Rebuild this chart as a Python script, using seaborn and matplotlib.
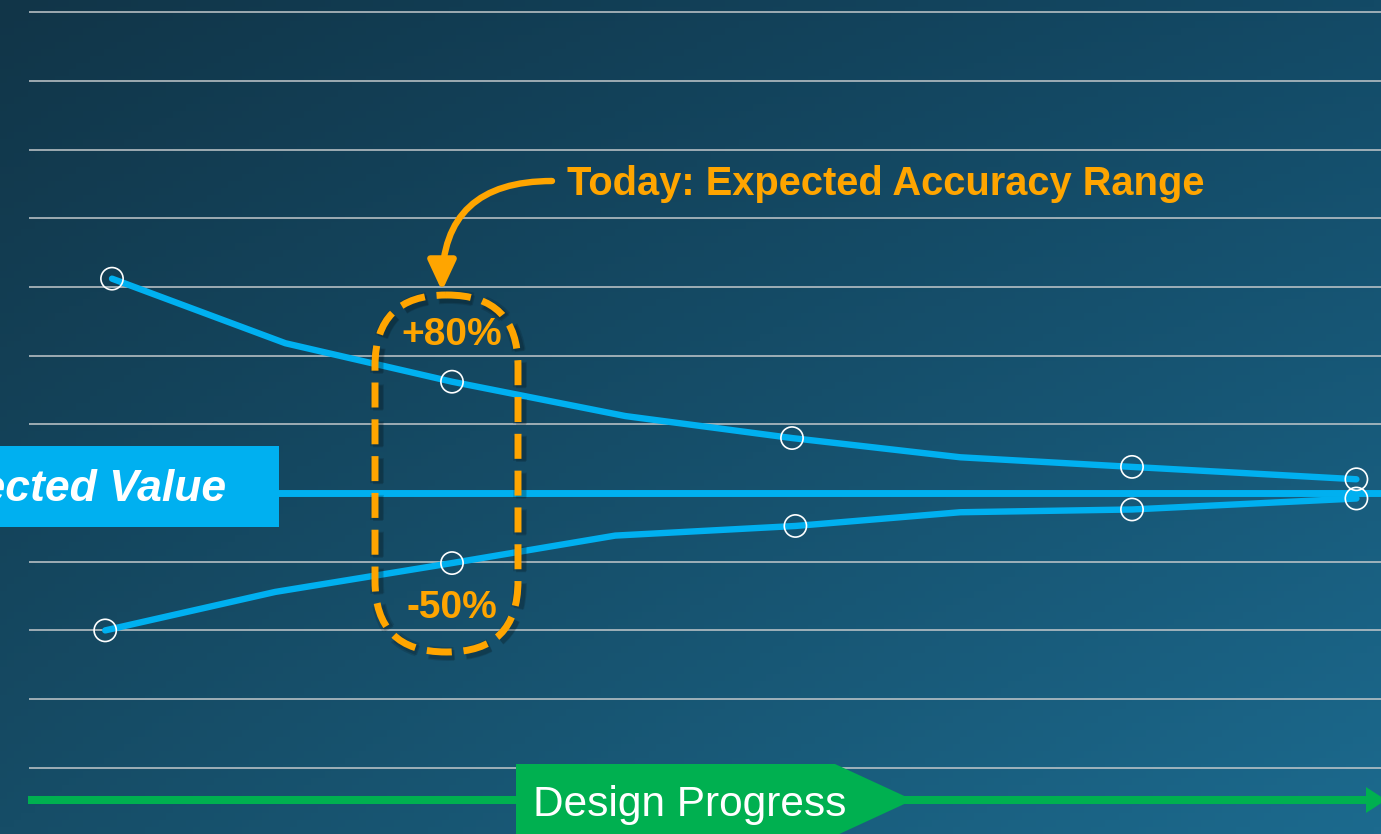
import numpy as np
import pandas as pd
import matplotlib.pyplot as plt
import seaborn as sns
from matplotlib.patches import FancyBboxPatch, Polygon, Rectangle, FancyArrowPatch

# design stage (x) vs. accuracy band around expected value, in %
stage_upper = [0.0, 1.02, 2.0, 3.02, 4.0, 4.99, 6.0, 7.32]
pct_upper = [156, 109, 81, 56, 40, 26, 19, 10]
stage_lower = [-0.04, 0.96, 2.0, 2.96, 4.02, 4.99, 6.0, 7.32]
pct_lower = [-100, -72, -51, -31, -24, -14, -12, -4]
marker_idx = [0, 2, 4, 6, 7]
grid_levels = [-200, -150, -100, -50, 50, 100, 150, 200, 250, 300, 350]

BLUE = '#00B0F0'
ORANGE = '#FFA500'
GREEN = '#00B050'

sns.set_style('white')
plt.rcParams['font.family'] = ['Liberation Sans', 'DejaVu Sans']

fig = plt.figure(figsize=(13.81, 8.34), dpi=100)
ax = fig.add_axes([0, 0, 1, 1])

x0, x1 = -112 / 170, (1381 - 112) / 170
y0, y1 = (493 - 834) * 50 / 68.7, 493 * 50 / 68.7

# background gradient
tl = np.array([0x11, 0x35, 0x48]) / 255
tr = np.array([0x13, 0x4a, 0x66]) / 255
bl = np.array([0x16, 0x4d, 0x67]) / 255
br = np.array([0x1c, 0x6a, 0x8e]) / 255
t = np.linspace(0, 1, 120)[:, None, None]
s = np.linspace(0, 1, 200)[None, :, None]
img = (1 - s) * (1 - t) * tl + s * (1 - t) * tr + (1 - s) * t * bl + s * t * br
ax.imshow(img, extent=(x0, x1, y0, y1), origin='upper', aspect='auto', zorder=0)

ax.hlines(grid_levels, -0.49, x1, colors='#c3c9cc', lw=1.1, zorder=1)

df_upper = pd.DataFrame({'stage': stage_upper, 'pct': pct_upper})
df_lower = pd.DataFrame({'stage': stage_lower, 'pct': pct_lower})
sns.lineplot(data=df_upper, x='stage', y='pct', sort=False, color=BLUE, lw=4.6, ax=ax, zorder=3)
sns.lineplot(data=df_lower, x='stage', y='pct', sort=False, color=BLUE, lw=4.6, ax=ax, zorder=3)
ax.axhline(0, color=BLUE, lw=5, zorder=3)

for df in (df_upper, df_lower):
    pts = df.iloc[marker_idx]
    ax.scatter(pts['stage'], pts['pct'], s=16 ** 2, facecolors='none',
               edgecolors='white', linewidths=1.2, zorder=4)

ax.set_xlim(x0, x1)
ax.set_ylim(y0, y1)
ax.axis('off')

# annotation layer in pixel units
ax2 = fig.add_axes([0, 0, 1, 1], facecolor='none')
ax2.set_xlim(0, 1381)
ax2.set_ylim(834, 0)
ax2.axis('off')

ax2.add_patch(Rectangle((-10, 446), 289, 81, fc=BLUE, ec='none'))
ax2.text(226, 489, 'Expected Value', ha='right', va='center', fontsize=32,
         fontweight='bold', fontstyle='italic', color='white')

for off, a, w in [(2, 0.12, 10), (3, 0.15, 7)]:
    ax2.add_patch(FancyBboxPatch((375 + off, 295 + off), 143, 357,
                                 boxstyle='round,pad=0,rounding_size=71',
                                 fill=False, ec='black', alpha=a, lw=w, ls=(0, (3.6 * 5 / w, 1.7 * 5 / w))))
ax2.add_patch(FancyBboxPatch((375, 295), 143, 357, boxstyle='round,pad=0,rounding_size=71',
                             fill=False, ec=ORANGE, lw=5, ls=(0, (3.6, 1.7))))
ax2.text(452, 335, '+80%', ha='center', va='center', fontsize=28, fontweight='bold', color=ORANGE)
ax2.text(452, 608, '-50%', ha='center', va='center', fontsize=28, fontweight='bold', color=ORANGE)

ax2.text(567, 184, 'Today: Expected Accuracy Range', ha='left', va='center', fontsize=28.7,
         fontweight='bold', color=ORANGE)
ax2.add_patch(FancyArrowPatch((552, 181), (442, 291), connectionstyle='angle3,angleA=0,angleB=90',
                              arrowstyle='-|>,head_length=0.9,head_width=0.42', mutation_scale=20,
                              color=ORANGE, lw=4.6, shrinkA=0, shrinkB=0))

ax2.plot([28, 1368], [800, 800], color=GREEN, lw=5.8, solid_capstyle='butt')
ax2.add_patch(Polygon([(1366, 787), (1386, 800), (1366, 813)], fc=GREEN, ec='none'))
ax2.add_patch(Polygon([(516, 764), (835, 764), (913, 800), (835, 836), (516, 836)], fc=GREEN, ec='none'))
ax2.text(533, 805, 'Design Progress', ha='left', va='center', fontsize=30.5, color='white')

fig.savefig('out.png', dpi=100)
